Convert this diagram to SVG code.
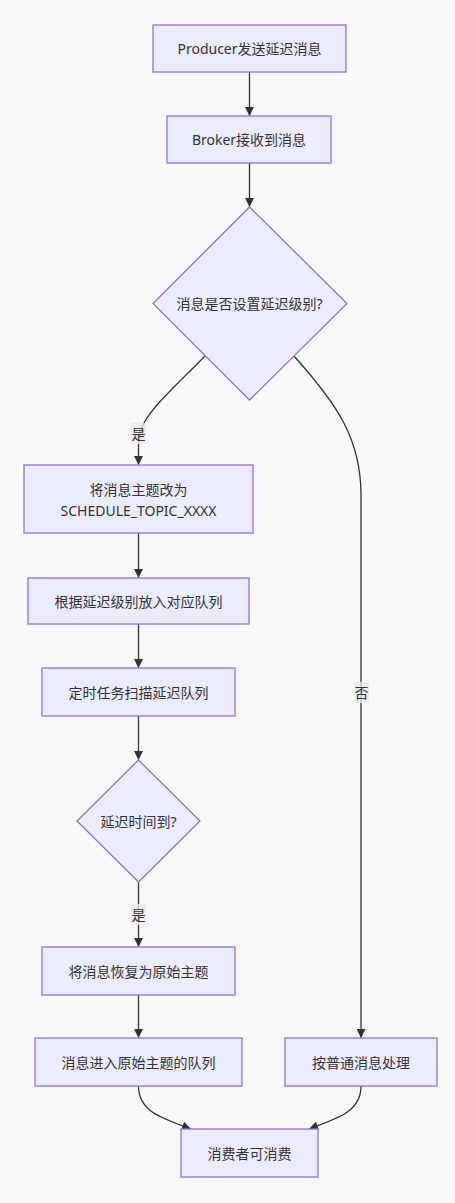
<svg xmlns="http://www.w3.org/2000/svg" width="455" height="1203" viewBox="0 0 455 1203">
<style>
.node rect,.node polygon{fill:#ECECFF;stroke:#9370DB;stroke-width:1.3px}
text{font-family:"Noto Sans","Noto Sans CJK SC",sans-serif;font-size:14px;fill:#333;text-anchor:middle;dominant-baseline:central}
.edge{fill:none;stroke:#333;stroke-width:1.3px;marker-end:url(#arrow)}
.lbl{fill:rgba(232,232,232,0.8)}
</style>
<defs>
<marker id="arrow" viewBox="0 0 10 10" refX="10" refY="5" markerWidth="9" markerHeight="9" markerUnits="userSpaceOnUse" orient="auto">
<path d="M0,0 L10,5 L0,10 z" fill="#333"/>
</marker>
</defs>
<rect width="455" height="1203" fill="#f8f9fb"/>
<g id="edges">
<path class="edge" d="M249.5,72 L249.5,116"/>
<path class="edge" d="M249.5,163 L249.5,207"/>
<path class="edge" d="M205,356 C170,392 140,416 138.5,440 L138.5,465"/>
<path class="edge" d="M294,356 C338,405 361,440 361,495 L361,1038"/>
<path class="edge" d="M138.5,533 L138.5,578"/>
<path class="edge" d="M138.5,624 L138.5,668"/>
<path class="edge" d="M138.5,716 L138.5,760"/>
<path class="edge" d="M138.5,882 L138.5,947"/>
<path class="edge" d="M138.5,995 L138.5,1038"/>
<path class="edge" d="M138.5,1086 C138.5,1110 158,1117 191,1129"/>
<path class="edge" d="M361,1086 C361,1110 342,1117 309,1129"/>
<rect class="lbl" x="131" y="423" width="15" height="21"/>
<text x="138.5" y="433.5">是</text>
<rect class="lbl" x="354" y="682" width="15" height="21"/>
<text x="361.5" y="692.5">否</text>
<rect class="lbl" x="131" y="904" width="15" height="21"/>
<text x="138.5" y="914.5">是</text>
</g>
<g id="n1" class="node"><rect x="153" y="25" width="193" height="47"/><text x="249.5" y="48.5">Producer发送延迟消息</text></g>
<g id="n2" class="node"><rect x="167" y="116" width="164" height="47"/><text x="249" y="139.5">Broker接收到消息</text></g>
<g id="n3" class="node"><polygon points="249.5,207 347,303.5 249.5,400 153,303.5"/><text x="249.5" y="303.5">消息是否设置延迟级别?</text></g>
<g id="n4" class="node"><rect x="24" y="465" width="229" height="68"/><text x="138.5" y="489">将消息主题改为</text><text x="138.5" y="510">SCHEDULE_TOPIC_XXXX</text></g>
<g id="n5" class="node"><rect x="28" y="578" width="221" height="46"/><text x="138.5" y="601">根据延迟级别放入对应队列</text></g>
<g id="n6" class="node"><rect x="42" y="668" width="193" height="48"/><text x="138.5" y="692">定时任务扫描延迟队列</text></g>
<g id="n7" class="node"><polygon points="138.5,760 200,821 138.5,882 77,821"/><text x="138.5" y="821">延迟时间到?</text></g>
<g id="n8" class="node"><rect x="42" y="947" width="193" height="48"/><text x="138.5" y="971">将消息恢复为原始主题</text></g>
<g id="n9" class="node"><rect x="35" y="1038" width="207" height="48"/><text x="138.5" y="1062">消息进入原始主题的队列</text></g>
<g id="n10" class="node"><rect x="285" y="1038" width="152" height="48"/><text x="361" y="1062">按普通消息处理</text></g>
<g id="n11" class="node"><rect x="181" y="1129" width="137" height="48"/><text x="249.5" y="1153">消费者可消费</text></g>
</svg>
